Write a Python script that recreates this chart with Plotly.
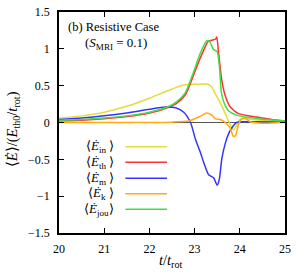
import plotly.graph_objects as go

# ---- data ----
t_in = [20, 20.5, 21, 21.5, 22, 22.4, 22.7, 22.9, 23.1, 23.3, 23.38, 23.45, 23.52, 23.6, 23.7, 23.78, 23.86, 23.93, 24.0, 24.1, 24.3, 24.6, 25]
e_in = [0.06, 0.09, 0.14, 0.22, 0.33, 0.43, 0.5, 0.52, 0.52, 0.52, 0.48, 0.40, 0.32, 0.23, 0.09, -0.02, -0.1, -0.04, 0.04, 0.05, 0.04, 0.02, 0.01]

t_th = [20, 20.5, 21, 21.5, 22, 22.4, 22.6, 22.8, 22.95, 23.1, 23.2, 23.3, 23.4, 23.46, 23.49, 23.53, 23.6, 23.68, 23.79, 23.97, 24.4, 24.7, 25]
e_th = [0.02, 0.03, 0.05, 0.08, 0.13, 0.2, 0.26, 0.38, 0.6, 0.84, 0.98, 1.1, 1.12, 1.13, 1.16, 0.95, 0.58, 0.36, 0.21, 0.12, 0.07, 0.04, 0.02]

t_m = [20, 20.5, 21, 21.5, 22, 22.36, 22.58, 22.76, 22.91, 23.02, 23.13, 23.2, 23.31, 23.42, 23.5, 23.55, 23.6, 23.68, 23.76, 23.85, 23.93, 24.08, 24.4, 25]
e_m = [0.04, 0.06, 0.09, 0.13, 0.18, 0.21, 0.2, 0.14, 0.0, -0.23, -0.41, -0.54, -0.71, -0.75, -0.85, -0.76, -0.5, -0.28, -0.14, -0.05, 0.0, 0.01, 0.01, 0.005]

t_k = [20, 21, 22, 22.5, 22.87, 23.0, 23.09, 23.2, 23.27, 23.38, 23.46, 23.57, 23.68, 23.79, 23.86, 23.91, 23.97, 24.04, 24.12, 24.23, 24.5, 25]
e_k = [0.0, 0.0, 0.0, 0.005, 0.02, 0.05, 0.075, 0.11, 0.13, 0.1, 0.05, 0.04, 0.0, -0.08, -0.19, -0.17, -0.03, 0.05, 0.06, 0.01, -0.01, 0.0]

t_jou = [20, 20.5, 21, 21.5, 22, 22.4, 22.6, 22.8, 22.95, 23.1, 23.2, 23.27, 23.33, 23.42, 23.5, 23.55, 23.59, 23.64, 23.75, 23.93, 24.4, 25]
e_jou = [0.03, 0.04, 0.06, 0.09, 0.14, 0.21, 0.28, 0.41, 0.64, 0.9, 1.04, 1.11, 1.1, 0.99, 0.96, 0.75, 0.42, 0.29, 0.16, 0.1, 0.05, 0.02]

series_names = ["⟨<i>Ė</i><sub>in</sub> ⟩", "⟨<i>Ė</i><sub>th</sub> ⟩", "⟨<i>Ė</i><sub>m</sub> ⟩",
                "⟨<i>Ė</i><sub>k</sub> ⟩", "⟨<i>Ė</i><sub>jou</sub>⟩"]
series_colors = ["#e4dc3a", "#ff3030", "#3434ff", "#ffaa10", "#44dd44"]

y_tickvals = [-1.5, -1, -0.5, 0, 0.5, 1, 1.5]
y_ticktext = ["−1.5", "−1", "−0.5", "0", "0.5", "1", "1.5"]
x_tickvals = [20, 21, 22, 23, 24, 25]

FONT = "Liberation Serif"

fig = go.Figure()
data = [(t_in, e_in), (t_th, e_th), (t_m, e_m), (t_k, e_k), (t_jou, e_jou)]
for (tt, ee), name, col in zip(data, series_names, series_colors):
    fig.add_trace(go.Scatter(x=tt, y=ee, mode="lines", name=name,
                             line=dict(color=col, width=1.5, shape="spline", smoothing=0.6),
                             showlegend=False))

# manual gnuplot-style key: text on the left, line sample on the right
L, R, T, B = 59, 287, 5, 233
W, H = R - L, B - T
rows = [144, 160, 176.5, 192.5, 208.5]
for yrow, name, col in zip(rows, series_names, series_colors):
    yp = 1 - (yrow - T) / H
    fig.add_annotation(x=(117 - L) / W, y=yp, xref="paper", yref="paper", text=name,
                       showarrow=False, xanchor="right", yanchor="middle",
                       font=dict(family=FONT, size=13, color="black"))
    fig.add_shape(type="line", xref="paper", yref="paper",
                  x0=(126 - L) / W, x1=(168 - L) / W, y0=yp, y1=yp,
                  line=dict(color=col, width=1.5))

fig.add_annotation(x=(66 - L) / W, y=1 - (20 - T) / H, xref="paper", yref="paper",
                   text="(b) Resistive Case", showarrow=False, xanchor="left", yanchor="middle",
                   font=dict(family=FONT, size=12.5, color="black"))
fig.add_annotation(x=(117 - L) / W, y=1 - (38 - T) / H, xref="paper", yref="paper",
                   text="(<i>S</i><sub>MRI</sub> = 0.1)", showarrow=False, xanchor="center", yanchor="middle",
                   font=dict(family=FONT, size=13, color="black"))
fig.add_annotation(x=(12.5 - L) / W, y=1 - (126 - T) / H, xref="paper", yref="paper",
                   text="⟨<i>Ė</i>⟩/(<i>E</i><sub>th0</sub>/<i>t</i><sub>rot</sub>)",
                   showarrow=False, textangle=-90, xanchor="center", yanchor="middle",
                   font=dict(family=FONT, size=14.5, color="black"))
fig.add_annotation(x=(172 - L) / W, y=1 - (262 - T) / H, xref="paper", yref="paper",
                   text="<i>t</i>/<i>t</i><sub>rot</sub>",
                   showarrow=False, xanchor="center", yanchor="middle",
                   font=dict(family=FONT, size=14.5, color="black"))

axis_common = dict(showline=True, linecolor="black", linewidth=1.5, mirror="ticks",
                   ticks="inside", ticklen=5, tickwidth=1, tickcolor="black",
                   showgrid=False, tickfont=dict(family=FONT, size=12, color="black"))
fig.update_xaxes(range=[20, 25], tickvals=x_tickvals, zeroline=False,
                 ticklabelstandoff=4, **axis_common)
fig.update_yaxes(range=[-1.5, 1.5], tickvals=y_tickvals, ticktext=y_ticktext,
                 zeroline=True, zerolinecolor="#555555", zerolinewidth=1,
                 ticklabelstandoff=5, **axis_common)

fig.update_layout(width=296, height=272, margin=dict(l=L, r=296 - R, t=T, b=272 - B),
                  paper_bgcolor="white", plot_bgcolor="white",
                  font=dict(family=FONT, size=12, color="black"))

fig.write_html("out.html", config={"displayModeBar": False},
               post_script="document.body.style.margin='0';document.body.style.overflow='hidden';")
